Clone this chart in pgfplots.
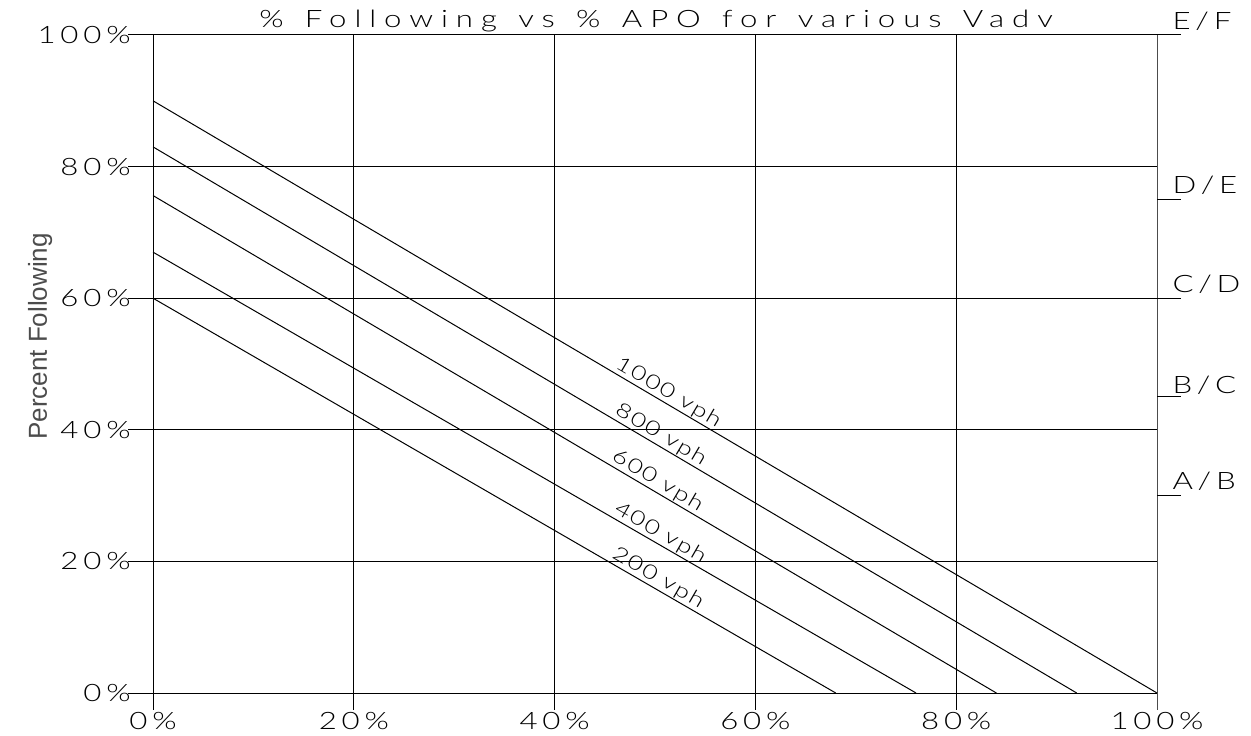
\documentclass[border=0pt]{standalone}
\usepackage{pgfplots}
\pgfplotsset{compat=1.18}
\usepackage{fontspec}
\setmainfont{Liberation Sans}
% thin, wide, spaced lettering for the drawing annotations
\newfontfamily\cad{Lato}[UprightFont=* Light, FakeStretch=1.3, LetterSpace=20]
\newfontfamily\cadtitle{Lato}[UprightFont=* Light, FakeStretch=1.3, LetterSpace=33, WordSpace=1.3]
\newfontfamily\cadsmall{Lato}[UprightFont=* Light, FakeStretch=1.3, LetterSpace=8]

\begin{document}
\begin{tikzpicture}[
  lbl/.style={font=\fontsize{10}{12}\cadsmall, sloped, anchor=base, inner sep=0pt, yshift=2.5pt},
  los/.style={font=\fontsize{12}{14}\cad, anchor=base west, inner sep=0pt},
]
\begin{axis}[
  scale only axis,
  width=502pt, height=329pt,
  xmin=0, xmax=100, ymin=0, ymax=100,
  clip=false,
  axis line style={draw=none},
  tick style={draw=none},
  major tick length=0pt,
  xtick={0,20,40,60,80,100},
  xticklabels={0\%,20\%,40\%,60\%,80\%,100\%},
  ytick={0,20,40,60,80,100},
  yticklabels={0\%,20\%,40\%,60\%,80\%,100\%},
  xticklabel style={font=\fontsize{12}{14}\cad, anchor=north, inner sep=0pt, yshift=-9.5pt},
  yticklabel style={font=\fontsize{12}{14}\cad, anchor=east, inner sep=0pt, xshift=-11pt},
]
% frame and grid
\draw[line width=0.5pt] (axis cs:-2.49,100) -- (axis cs:102.4,100);
\pgfplotsinvokeforeach{0,20,40,60,80}{
  \draw[line width=0.5pt] (axis cs:-2.49,#1) -- (axis cs:100,#1);
}
\pgfplotsinvokeforeach{0,20,40,60,80}{
  \draw[line width=0.5pt] (axis cs:#1,-2.58) -- (axis cs:#1,100);
}
\draw[line width=0.5pt, black!70] (axis cs:100,-2.58) -- (axis cs:100,100);

% level-of-service thresholds on the right
\pgfplotsinvokeforeach{75,60,45,30}{
  \draw[line width=0.5pt] (axis cs:100,#1) -- (axis cs:102.4,#1);
}
\node[los] at (axis cs:101.5,100.9) {E/F};
\node[los] at (axis cs:101.5,75.9) {D/E};
\node[los] at (axis cs:101.5,60.8) {C/D};
\node[los] at (axis cs:101.5,45.5) {B/C};
\node[los] at (axis cs:101.5,31.0) {A/B};

% percent following vs percent APO, one line per flow rate
\addplot[black, line width=0.5pt] coordinates {(0,90) (100,0)}
  node[lbl, pos=0.508] {1000 vph};
\addplot[black, line width=0.5pt] coordinates {(0,83) (92,0)}
  node[lbl, pos=0.544] {800 vph};
\addplot[black, line width=0.5pt] coordinates {(0,75.6) (84,0)}
  node[lbl, pos=0.592] {600 vph};
\addplot[black, line width=0.5pt] coordinates {(0,67) (76,0)}
  node[lbl, pos=0.658] {400 vph};
\addplot[black, line width=0.5pt] coordinates {(0,60) (68,0)}
  node[lbl, pos=0.732] {200 vph};

% titles
\node[font=\fontsize{12}{14}\cadtitle, anchor=base, inner sep=0pt] at (axis cs:50.1,101.1) {\% Following vs \% APO for various Vadv};
\node[font=\fontsize{13}{15}\selectfont, text=black!70, rotate=90, anchor=center, inner sep=0pt] at (axis cs:-11.25,54.2) {Percent Following};

\coordinate (bbsw) at (axis cs:-15.24,-6.53);
\coordinate (bbne) at (axis cs:109.36,105.32);
\end{axis}
\pgfresetboundingbox
\path[use as bounding box] (bbsw) rectangle (bbne);
\end{tikzpicture}
\end{document}
